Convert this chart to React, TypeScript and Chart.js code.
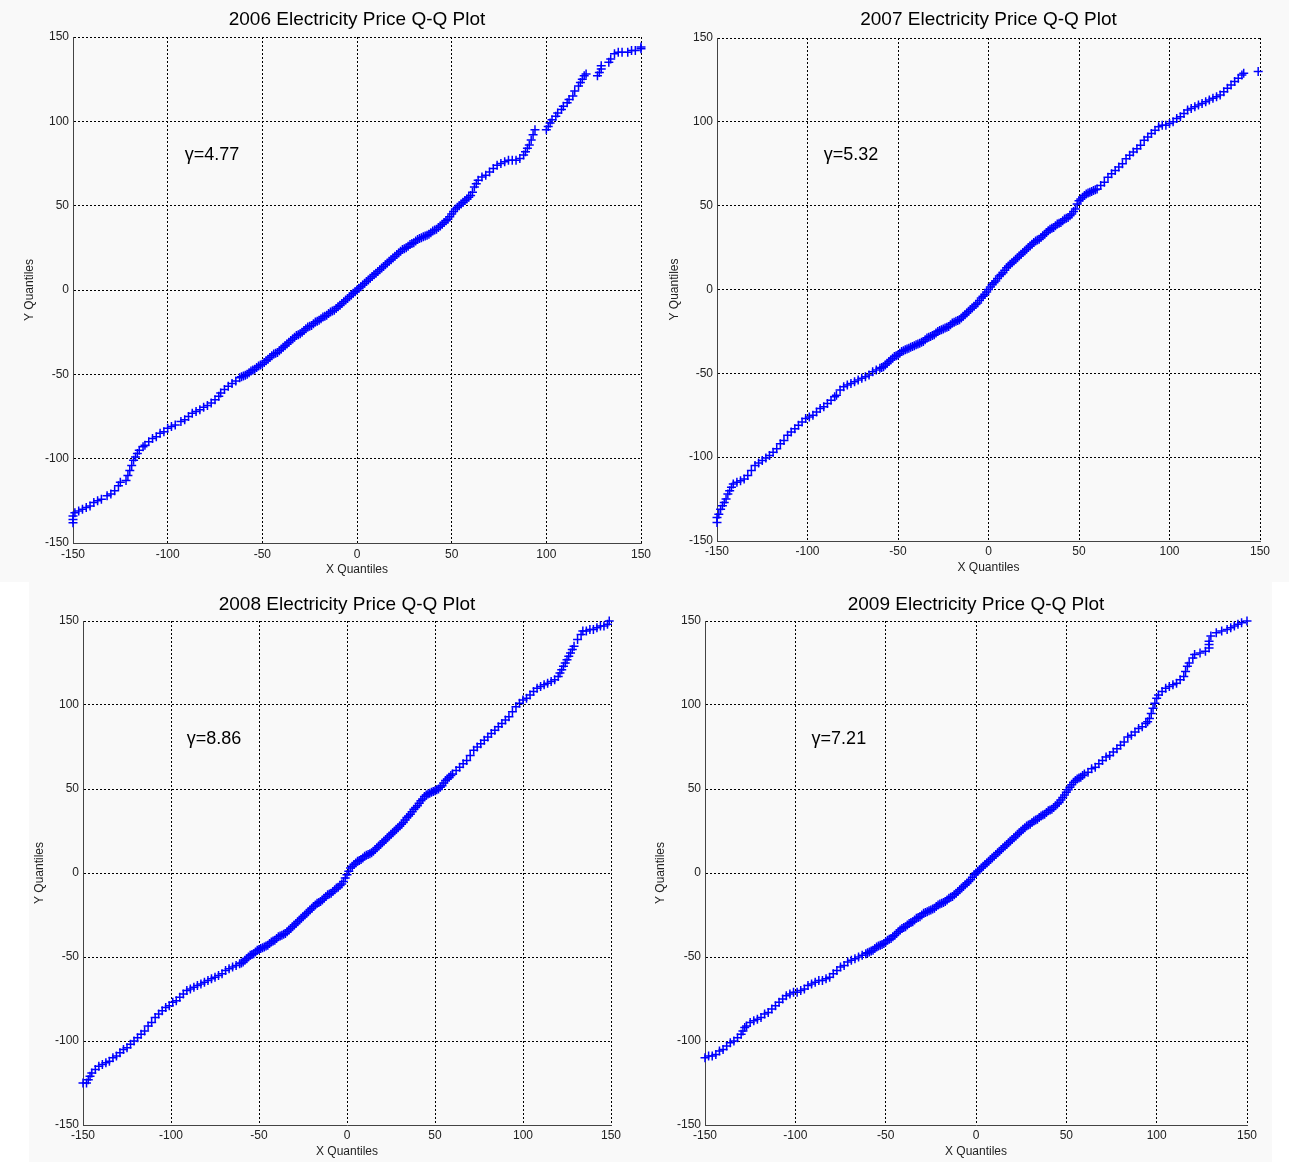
import React, { useEffect, useRef } from 'react';
import { Chart, registerables } from 'chart.js';

Chart.register(...registerables);

// ---------------- data ----------------
const years = ['2006', '2007', '2008', '2009'];
const gammaValues = ['4.77', '5.32', '8.86', '7.21'];
const axisMin = -150;
const axisMax = 150;
const axisStep = 50;
const xAxisTitle = 'X Quantiles';
const yAxisTitle = 'Y Quantiles';

const qq2006: number[][] = [
  [-150, -138], [-150, -136], [-150, -134], [-149, -132], [-147, -131], [-145, -130], [-143, -129], [-141, -128],
  [-139, -126], [-137, -125], [-135, -124], [-132, -122], [-130, -121], [-128, -119], [-126, -116], [-125, -114],
  [-122, -113], [-121, -110], [-120, -107], [-119, -104], [-118, -101], [-117, -99], [-116, -97], [-115, -95],
  [-113, -93], [-112, -92], [-110, -90], [-108, -88], [-106, -87], [-104, -85], [-102, -84], [-100, -82],
  [-98, -81], [-96, -80], [-93, -78], [-91, -77], [-89, -75], [-87, -73], [-85, -72], [-83, -71], [-81, -69.5],
  [-79, -68.5], [-77, -67], [-75, -65], [-73, -63], [-72, -61], [-70, -59], [-68, -57], [-66, -55.5], [-64, -54],
  [-62, -52], [-61, -51.5],
  [-60, -51], [-59, -50.5], [-58, -50], [-57, -49], [-56, -48], [-55, -47.5], [-54, -47], [-53, -46], [-52, -45],
  [-51, -44.5], [-50, -44], [-49, -43], [-48, -42], [-47, -41], [-46, -40], [-45, -39], [-44, -38], [-43, -37.5],
  [-42, -37], [-41, -36], [-40, -35], [-39, -34], [-38, -33], [-37, -32], [-36, -31], [-35, -30], [-34, -29],
  [-33, -28], [-32, -27], [-31, -26.5], [-30, -26], [-29, -25], [-28, -24], [-27, -23], [-26, -22], [-25, -21.5],
  [-24, -21], [-23, -20], [-22, -19], [-21, -18.5], [-20, -18], [-19, -17], [-18, -16], [-17, -15.5], [-16, -15],
  [-15, -14], [-14, -13], [-13, -12.5], [-12, -12], [-11, -11], [-10, -10], [-9, -9], [-8, -8], [-7, -7], [-6, -6],
  [-5, -5], [-4, -4], [-3, -3], [-2, -2], [-1, -1], [0, 0], [1, 1], [2, 2], [3, 3], [4, 4], [5, 5], [6, 6], [7, 7],
  [8, 8], [9, 9], [10, 10], [11, 11], [12, 12], [13, 13], [14, 14], [15, 15], [16, 16], [17, 17], [18, 18],
  [19, 19], [20, 20], [21, 21], [22, 22], [23, 23], [24, 24], [25, 24.5], [26, 25], [27, 26], [28, 27],
  [29, 27.5], [30, 28], [31, 29], [32, 30], [33, 30.5], [34, 31], [35, 31.5], [36, 32], [37, 32.5], [38, 33],
  [39, 34], [40, 35], [41, 35.5], [42, 36], [43, 37], [44, 38], [45, 39], [46, 40], [47, 41], [48, 42], [49, 43.5],
  [50, 45], [51, 46.5], [52, 48], [53, 49], [54, 50], [55, 51], [56, 52], [57, 53], [58, 54], [59, 55], [60, 56],
  [61, 58], [62, 61], [63, 63], [64, 65], [66, 67], [68, 68], [70, 70], [72, 72], [74, 74], [76, 75],
  [78, 76], [80, 77], [82, 77], [84, 77], [86, 78], [88, 80], [89, 82], [90, 84], [91, 86], [92, 89], [93, 92],
  [94, 95], [100, 95], [101, 97], [102, 99], [103, 101], [105, 103], [106, 105], [108, 107], [109, 109],
  [111, 111], [112, 113], [114, 115], [115, 118], [117, 121], [118, 123], [119, 125], [120, 127], [121, 128],
  [127, 127], [128, 129], [129, 131], [129, 133], [133, 135], [134, 137], [136, 140], [138, 141], [140, 141],
  [143, 141], [145, 142], [147, 142], [150, 143], [150, 144],
];

const qq2007: number[][] = [
  [-150, -139], [-150, -136], [-149, -134], [-148, -131], [-147, -129], [-146, -127], [-145, -125], [-144, -122],
  [-143, -120], [-142, -118], [-141, -116], [-139, -115], [-137, -114], [-135, -113], [-133, -111], [-131, -108],
  [-129, -105], [-127, -103.5], [-125, -102], [-123, -100.5], [-121, -99], [-119, -97], [-117, -95], [-115, -92],
  [-113, -90], [-111, -87], [-109, -85], [-107, -83], [-105, -81], [-103, -79], [-101, -77], [-99, -76],
  [-97, -75], [-95, -73], [-93, -71], [-91, -70], [-89, -68], [-87, -66], [-85, -64], [-84, -63], [-82, -60],
  [-80, -58], [-78, -57], [-76, -56], [-74, -55], [-72, -54], [-70, -53], [-68, -52], [-66, -51], [-64, -49],
  [-62, -48],
  [-60, -47], [-59, -46.5], [-58, -46], [-57, -45], [-56, -44], [-55, -43], [-54, -42], [-53, -41], [-52, -40],
  [-51, -39.5], [-50, -39], [-49, -38], [-48, -37], [-47, -36.5], [-46, -36], [-45, -35.5], [-44, -35],
  [-43, -34.5], [-42, -34], [-41, -33.5], [-40, -33], [-39, -32.5], [-38, -32], [-37, -31.5], [-36, -31],
  [-35, -30], [-34, -29], [-33, -28.5], [-32, -28], [-31, -27.5], [-30, -27], [-29, -26], [-28, -25],
  [-27, -24.5], [-26, -24], [-25, -23.5], [-24, -23], [-23, -22.5], [-22, -22], [-21, -21], [-20, -20],
  [-19, -19.5], [-18, -19], [-17, -18.5], [-16, -18], [-15, -17], [-14, -16], [-13, -15], [-12, -14], [-11, -13],
  [-10, -12], [-9, -11], [-8, -10], [-7, -9], [-6, -8], [-5, -6.5], [-4, -5], [-3, -4], [-2, -3], [-1, -1.5],
  [0, 0], [1, 1.5], [2, 3], [3, 4], [4, 5], [5, 6.5], [6, 8], [7, 9], [8, 10], [9, 11.5], [10, 13], [11, 14],
  [12, 15], [13, 16], [14, 17], [15, 18], [16, 19], [17, 20], [18, 21], [19, 22], [20, 23], [21, 24], [22, 25],
  [23, 26], [24, 27], [25, 28], [26, 29], [27, 29.5], [28, 30], [29, 31], [30, 32], [31, 33], [32, 34], [33, 35],
  [34, 36], [35, 36.5], [36, 37], [37, 38], [38, 39], [39, 39.5], [40, 40], [41, 41], [42, 42], [43, 42.5],
  [44, 43], [45, 44], [46, 45], [47, 46.5], [48, 48], [49, 51], [50, 53], [51, 54], [52, 55], [53, 56], [54, 57],
  [55, 57.5], [56, 58], [57, 58.5], [58, 59], [59, 59.5], [60, 60],
  [62, 62], [64, 64], [66, 67], [68, 69], [70, 71], [72, 73], [74, 75], [76, 78],
  [78, 80], [80, 82], [82, 84], [84, 86], [86, 89], [88, 91], [90, 93], [92, 95], [94, 97], [96, 98], [98, 98],
  [100, 99], [102, 100], [104, 102], [106, 103], [108, 105], [110, 107], [112, 108], [114, 109], [116, 110],
  [118, 111], [120, 112], [122, 113], [124, 114], [126, 115], [128, 116], [130, 118], [132, 120], [134, 122],
  [136, 124], [138, 126], [140, 128], [141, 129], [149, 130],
];

const qq2008: number[][] = [
  [-150, -125], [-148, -125], [-147, -123], [-146, -121], [-145, -119], [-143, -117], [-141, -115], [-139, -114],
  [-137, -113], [-135, -112], [-133, -110], [-131, -109], [-129, -107], [-127, -105], [-125, -104], [-123, -102],
  [-121, -100], [-119, -98], [-117, -96], [-115, -94], [-113, -91], [-111, -89], [-109, -86], [-107, -84],
  [-105, -82], [-103, -80], [-101, -79], [-99, -77], [-97, -76], [-95, -74], [-93, -72], [-91, -70], [-89, -69],
  [-87, -68], [-85, -67], [-83, -66], [-81, -65], [-79, -64], [-77, -63], [-75, -62], [-73, -61], [-71, -60],
  [-69, -58], [-67, -57], [-65, -56], [-63, -55], [-61, -54],
  [-60, -53.5], [-59, -53], [-58, -52], [-57, -51], [-56, -50], [-55, -49], [-54, -48.5], [-53, -48], [-52, -47],
  [-51, -46], [-50, -45.5], [-49, -45], [-48, -44.5], [-47, -44], [-46, -43.5], [-45, -43], [-44, -42],
  [-43, -41], [-42, -40.5], [-41, -40], [-40, -39], [-39, -38], [-38, -37.5], [-37, -37], [-36, -36.5],
  [-35, -36], [-34, -35], [-33, -34], [-32, -33], [-31, -32], [-30, -31], [-29, -30], [-28, -29], [-27, -28],
  [-26, -27], [-25, -26], [-24, -25], [-23, -24], [-22, -23], [-21, -22], [-20, -21], [-19, -20], [-18, -19],
  [-17, -18], [-16, -17.5], [-15, -17], [-14, -16], [-13, -15], [-12, -14], [-11, -13], [-10, -12.5], [-9, -12],
  [-8, -11], [-7, -10], [-6, -9], [-5, -8.5], [-4, -7.5], [-3, -6.5], [-2, -5], [-1, -3], [0, -1], [1, 1],
  [2, 3], [3, 4], [4, 5], [5, 6], [6, 7], [7, 7.5], [8, 8], [9, 9], [10, 10], [11, 10.5], [12, 11], [13, 11.5],
  [14, 12], [15, 13], [16, 14], [17, 15], [18, 16], [19, 17], [20, 18], [21, 19], [22, 20], [23, 21], [24, 22],
  [25, 23], [26, 24], [27, 25], [28, 26], [29, 27], [30, 28], [31, 29], [32, 30], [33, 31.5], [34, 33],
  [35, 34], [36, 35], [37, 36.5], [38, 38], [39, 39], [40, 40], [41, 41.5], [42, 43], [43, 44], [44, 45.5],
  [45, 46.5], [46, 47], [47, 47.5], [48, 48], [49, 48.5], [50, 49], [51, 49.5], [52, 50], [53, 51], [54, 52],
  [55, 53.5], [56, 55], [57, 56], [58, 57], [59, 58], [60, 59],
  [62, 61], [64, 63], [66, 65], [68, 67], [70, 70], [72, 73], [74, 75], [76, 77], [78, 79], [80, 81], [82, 83],
  [84, 85], [86, 87], [88, 89], [90, 91], [92, 93], [94, 96], [96, 99], [98, 101], [100, 103], [102, 104],
  [104, 106], [106, 108], [108, 110], [110, 111], [112, 112], [114, 113], [116, 114], [118, 115], [120, 117],
  [121, 119], [122, 121], [123, 123], [124, 125], [125, 127], [126, 129], [127, 131], [128, 133], [129, 135],
  [131, 139], [133, 142], [134, 144], [136, 144], [138, 145], [140, 145], [142, 146], [144, 147], [146, 147],
  [148, 148], [149, 150],
];

const qq2009: number[][] = [
  [-150, -110], [-148, -109], [-146, -109], [-144, -108], [-142, -106], [-140, -105], [-138, -103], [-136, -101],
  [-134, -100], [-132, -98], [-130, -96], [-129, -94], [-128, -92], [-127, -91], [-125, -89], [-123, -88],
  [-121, -87], [-119, -86], [-117, -84], [-115, -83], [-113, -81], [-111, -79], [-109, -77], [-107, -75],
  [-105, -73], [-103, -72], [-101, -71], [-99, -71], [-97, -70], [-95, -69], [-93, -67], [-91, -66], [-89, -65],
  [-87, -64], [-85, -64], [-83, -63], [-81, -62], [-79, -60], [-77, -58], [-75, -56], [-73, -55], [-71, -53],
  [-69, -52], [-67, -51], [-65, -50], [-63, -49], [-61, -48],
  [-60, -47.5], [-59, -47], [-58, -46.5], [-57, -46], [-56, -45], [-55, -44], [-54, -43.5], [-53, -43],
  [-52, -42.5], [-51, -42], [-50, -41], [-49, -40], [-48, -39.5], [-47, -39], [-46, -38], [-45, -37], [-44, -36],
  [-43, -35], [-42, -34], [-41, -33], [-40, -32.5], [-39, -32], [-38, -31], [-37, -30], [-36, -29.5], [-35, -29],
  [-34, -28], [-33, -27], [-32, -26.5], [-31, -26], [-30, -25], [-29, -24], [-28, -23.5], [-27, -23],
  [-26, -22.5], [-25, -22], [-24, -21.5], [-23, -21], [-22, -20], [-21, -19], [-20, -18.5], [-19, -18],
  [-18, -17.5], [-17, -17], [-16, -16], [-15, -15], [-14, -14.5], [-13, -14], [-12, -13], [-11, -12], [-10, -11],
  [-9, -10], [-8, -9], [-7, -8], [-6, -7], [-5, -6], [-4, -5], [-3, -4], [-2, -2.5], [-1, -1], [0, 0], [1, 1],
  [2, 2], [3, 3], [4, 4], [5, 5], [6, 6], [7, 7], [8, 8], [9, 9], [10, 10], [11, 11], [12, 12], [13, 13], [14, 14],
  [15, 15], [16, 16], [17, 17], [18, 18], [19, 19], [20, 20], [21, 21], [22, 22], [23, 23], [24, 24], [25, 25],
  [26, 26], [27, 27], [28, 28], [29, 28.5], [30, 29], [31, 30], [32, 31], [33, 31.5], [34, 32], [35, 33],
  [36, 34], [37, 34.5], [38, 35], [39, 36], [40, 37], [41, 37.5], [42, 38], [43, 39], [44, 40], [45, 41],
  [46, 42], [47, 43.5], [48, 45], [49, 46.5], [50, 48], [51, 49.5], [52, 51], [53, 52.5], [54, 54], [55, 55],
  [56, 56], [57, 56.5], [58, 57], [59, 58], [60, 59],
  [62, 60], [64, 62], [66, 63], [68, 65], [70, 67], [72, 69], [74, 70], [76, 72], [78, 74], [80, 76], [82, 78],
  [84, 81], [86, 82], [88, 84], [90, 86], [92, 87], [94, 89], [95, 90], [96, 92], [97, 95], [98, 98], [99, 101],
  [100, 104], [101, 106], [103, 108], [105, 110], [107, 111], [109, 112], [111, 113], [113, 115], [115, 117],
  [116, 120], [117, 123], [118, 125], [120, 128], [121, 130], [124, 131], [127, 132], [129, 134], [129, 136],
  [129, 138], [130, 141], [133, 143], [136, 144], [139, 145], [141, 146], [143, 147], [145, 148], [147, 149],
  [150, 150],
];

const seriesList = [qq2006, qq2007, qq2008, qq2009];

// ---------------- layout / style ----------------
const FONT = '"Liberation Sans", Arial, Helvetica, sans-serif';
const PANEL_BG = '#f9f9f9';
const MARKER = '#0000ff';
const LH = 12 * 1.2;
const gammaAt = { x: -91, y: 80 };

const panels = [
  { left: 0, top: 0, width: 660, height: 582, plotLeft: 73, plotRight: 641, plotTop: 37, plotBottom: 543, titleY: 20, yTitleX: 30, xTickY: 555, xTitleY: 570 },
  { left: 660, top: 0, width: 629, height: 582, plotLeft: 717, plotRight: 1260, plotTop: 38, plotBottom: 541, titleY: 20, yTitleX: 675, xTickY: 552, xTitleY: 568 },
  { left: 29, top: 582, width: 616, height: 580, plotLeft: 83, plotRight: 611, plotTop: 621, plotBottom: 1125, titleY: 605, yTitleX: 40, xTickY: 1136, xTitleY: 1152 },
  { left: 645, top: 582, width: 627, height: 580, plotLeft: 705, plotRight: 1247, plotTop: 621, plotBottom: 1125, titleY: 605, yTitleX: 661, xTickY: 1136, xTitleY: 1152 },
];

const panelPlugin = {
  id: 'qqPanel',
  beforeDraw(chart: any) {
    const { ctx, width, height } = chart;
    ctx.save();
    ctx.fillStyle = PANEL_BG;
    ctx.fillRect(0, 0, width, height);
    ctx.restore();
  },
  afterDraw(chart: any, _args: any, opts: any) {
    const { ctx, chartArea, scales } = chart;
    ctx.save();
    ctx.fillStyle = '#000';
    ctx.textAlign = 'center';
    ctx.textBaseline = 'middle';
    ctx.font = `19px ${FONT}`;
    ctx.fillText(opts.title, (chartArea.left + chartArea.right) / 2, opts.titleY);
    ctx.textAlign = 'left';
    ctx.font = `18px ${FONT}`;
    ctx.fillText(opts.gamma, scales.x.getPixelForValue(gammaAt.x), scales.y.getPixelForValue(gammaAt.y));
    ctx.restore();
  },
};

function QQPanel({ index }: { index: number }) {
  const ref = useRef<HTMLCanvasElement | null>(null);
  const p = panels[index];
  useEffect(() => {
    if (!ref.current) return;
    const yWidth = p.plotLeft - p.left;
    const xHeight = p.top + p.height - p.plotBottom;
    const tickFont = { family: FONT, size: 12 };
    const chart = new Chart(ref.current, {
      type: 'scatter',
      data: {
        datasets: [
          {
            data: seriesList[index].map(([x, y]) => ({ x, y })),
            pointStyle: 'cross',
            pointRadius: 4.5,
            pointHoverRadius: 4.5,
            pointBorderWidth: 1.5,
            pointBorderColor: MARKER,
            pointBackgroundColor: MARKER,
            showLine: false,
            clip: false,
          } as any,
        ],
      },
      options: {
        animation: false,
        responsive: false,
        maintainAspectRatio: false,
        events: [],
        layout: {
          padding: { top: p.plotTop - p.top, right: p.left + p.width - p.plotRight, bottom: 0, left: 0 },
        },
        plugins: {
          legend: { display: false },
          tooltip: { enabled: false },
          title: { display: false },
          qqPanel: {
            title: `${years[index]} Electricity Price Q-Q Plot`,
            gamma: `\u03b3=${gammaValues[index]}`,
            titleY: p.titleY - p.top,
          },
        } as any,
        scales: {
          x: {
            type: 'linear',
            min: axisMin,
            max: axisMax,
            ticks: { stepSize: axisStep, font: tickFont, color: '#222', padding: p.xTickY - p.plotBottom - LH / 2, maxRotation: 0 },
            grid: { color: '#000', lineWidth: 1, drawTicks: false },
            border: { display: true, color: '#444', width: 1, dash: [2, 2] },
            title: { display: true, text: xAxisTitle, font: { family: FONT, size: 12 }, color: '#222', padding: { top: 0, bottom: p.top + p.height - p.xTitleY - LH / 2 } },
            afterFit: (s: any) => { s.height = xHeight; },
          },
          y: {
            type: 'linear',
            min: axisMin,
            max: axisMax,
            ticks: { stepSize: axisStep, font: tickFont, color: '#222', padding: 4 },
            grid: { color: '#000', lineWidth: 1, drawTicks: false },
            border: { display: true, color: '#444', width: 1, dash: [2, 2] },
            title: { display: true, text: yAxisTitle, font: { family: FONT, size: 12 }, color: '#222', padding: { top: p.yTitleX - p.left - LH / 2, bottom: 0 } },
            afterFit: (s: any) => { s.width = yWidth; },
          },
        },
      } as any,
      plugins: [panelPlugin],
    });
    return () => chart.destroy();
  }, [index]);
  return (
    <canvas
      ref={ref}
      width={p.width}
      height={p.height}
      style={{ position: 'absolute', left: p.left, top: p.top, width: p.width, height: p.height }}
    />
  );
}

export default function App() {
  return (
    <div style={{ position: 'absolute', left: 0, top: 0, width: 1289, height: 1162, background: '#ffffff', overflow: 'hidden' }}>
      {panels.map((_, i) => (
        <QQPanel key={i} index={i} />
      ))}
    </div>
  );
}
